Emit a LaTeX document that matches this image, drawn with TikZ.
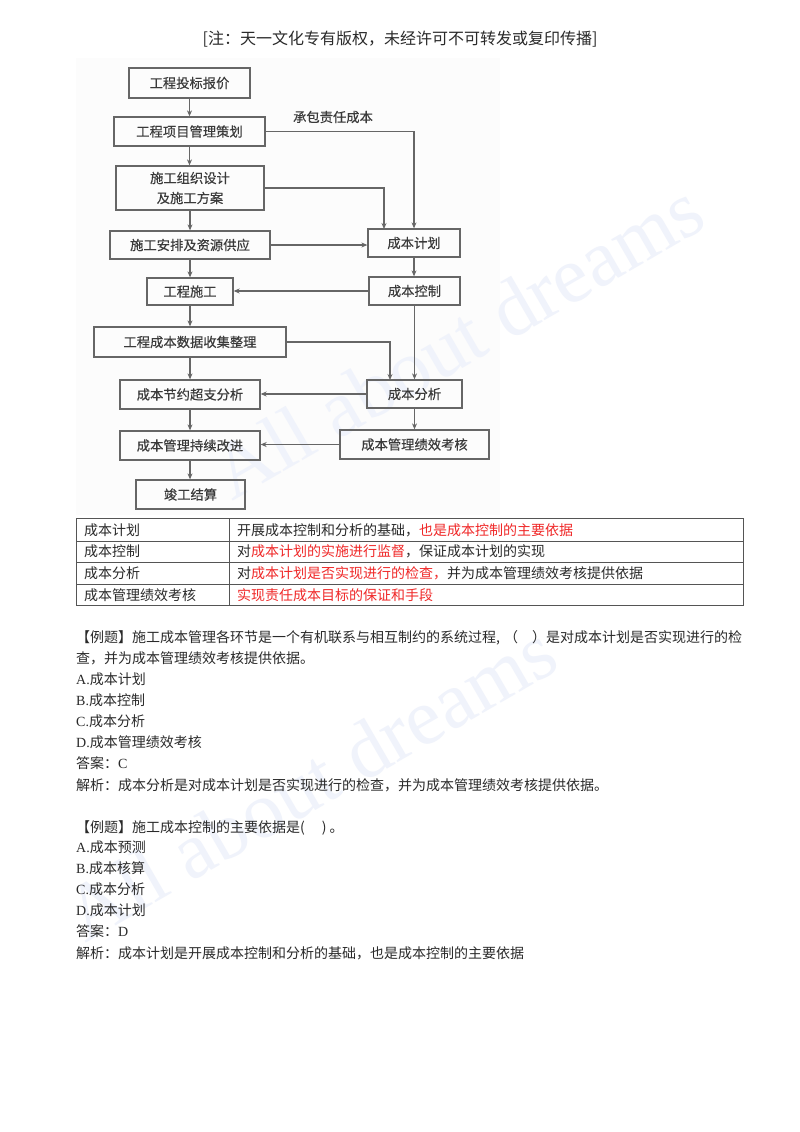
\documentclass[tikz,border=0pt]{standalone}
\usepackage{fontspec}
\setmainfont{Liberation Serif}
\newfontfamily\cjk{Noto Sans CJK SC}
\newfontfamily\cjkb[FakeBold=0.35]{Noto Sans CJK SC}
\newfontfamily\lat{Liberation Serif}
\usetikzlibrary{arrows.meta}
\definecolor{ink}{HTML}{2A2A2A}
\definecolor{boxline}{HTML}{666666}
\definecolor{boxtext}{HTML}{3A3A3A}
\definecolor{redtext}{HTML}{F02828}
\definecolor{wmark}{HTML}{F0F3FB}
\definecolor{rulegray}{HTML}{555555}
\tikzset{
  x=1pt,y=-1pt,
  flowbox/.style={draw=boxline,line width=1.3pt,inner sep=0pt,align=center,text=boxtext,font=\cjkb\fontsize{13.3}{20}\selectfont},
  flowlabel/.style={inner sep=0pt,text=boxtext,font=\cjkb\fontsize{13.3}{20}\selectfont},
  link/.style={draw=boxline,line width=1.3pt,-{Stealth[length=6pt,width=5pt]}},
  line/.style={anchor=west,inner sep=0pt,text=ink,text height=11pt,text depth=3pt,font=\cjk\fontsize{14}{16}\selectfont},
  tabrule/.style={draw=rulegray,line width=1pt},
  watermark/.style={text=wmark,font=\lat\fontsize{80}{80}\selectfont,rotate=30,inner sep=0pt}
}
\newcommand{\rd}[1]{\textcolor{redtext}{#1}}
\begin{document}
\begin{tikzpicture}
\useasboundingbox (0,0) rectangle (800,1132);
\fill[white] (0,0) rectangle (800,1132);
\fill[black!1] (76,58) rectangle (500,515);
% watermarks
\node[watermark] (wm1) at (457,340) {All about dreams};
\node[watermark] (wm2) at (310,782) {All about dreams};
% header
\node[inner sep=0pt,text=ink,font=\cjk\fontsize{16}{18}\selectfont] (hdr) at (400,39) {[注：天一文化专有版权，未经许可不可转发或复印传播]};
% flow boxes
\node[flowbox,minimum width=121pt,minimum height=30pt] (a) at (189.5,83) {工程投标报价};
\node[flowbox,minimum width=151pt,minimum height=29pt] (b) at (189.5,131.5) {工程项目管理策划};
\node[flowbox,minimum width=148pt,minimum height=44pt] (c) at (190,188) {施工组织设计\\及施工方案};
\node[flowbox,minimum width=160pt,minimum height=28pt] (d) at (190,245) {施工安排及资源供应};
\node[flowbox,minimum width=86pt,minimum height=27pt] (e) at (190,291.5) {工程施工};
\node[flowbox,minimum width=192pt,minimum height=30pt] (f) at (190,342) {工程成本数据收集整理};
\node[flowbox,minimum width=140pt,minimum height=29pt] (g) at (190,394.5) {成本节约超支分析};
\node[flowbox,minimum width=140pt,minimum height=29pt] (h) at (190,445.5) {成本管理持续改进};
\node[flowbox,minimum width=109pt,minimum height=29pt] (i) at (190.5,494.5) {竣工结算};
\node[flowbox,minimum width=92pt,minimum height=28pt] (plan) at (414,243) {成本计划};
\node[flowbox,minimum width=91pt,minimum height=28pt] (ctrl) at (414.5,291) {成本控制};
\node[flowbox,minimum width=95pt,minimum height=28pt] (ana) at (414.5,394) {成本分析};
\node[flowbox,minimum width=149pt,minimum height=29pt] (kh) at (414.5,444.5) {成本管理绩效考核};
\node[flowlabel] (cb) at (333,117) {承包责任成本};
% connectors
\draw[link] (a.south) -- (a.south |- b.north);
\draw[link] (b.south) -- (b.south |- c.north);
\draw[link] (c.south) -- (d.north);
\draw[link] (d.south) -- (e.north);
\draw[link] (e.south) -- (f.north);
\draw[link] (f.south) -- (g.north);
\draw[link] (g.south) -- (h.north);
\draw[link] (h.south) -- (h.south |- i.north);
\draw[link] (b.east) -| (plan.north);
\coordinate (cin) at (384,229);
\draw[link] (c.east) -| (cin);
\draw[link] (d.east) -- (d.east -| plan.west);
\draw[link] (plan.south) -- (plan.south |- ctrl.north);
\draw[link] (ctrl.west) -- (ctrl.west -| e.east);
\draw[link] (ctrl.south) -- (ana.north);
\coordinate (ain) at (390,380);
\draw[link] (f.east) -| (ain);
\draw[link] (ana.west) -- (ana.west -| g.east);
\draw[link] (ana.south) -- (kh.north);
\draw[link] (kh.west) -- (kh.west -| h.east);
% table
\draw[tabrule] (76,518.5) rectangle (743,605.5);
\draw[tabrule] (76,541) -- (743,541);
\draw[tabrule] (76,562.5) -- (743,562.5);
\draw[tabrule] (76,584) -- (743,584);
\draw[tabrule] (229,518.5) -- (229,605.5);
\node[line] (t1a) at (84,531) {成本计划};
\node[line] (t2a) at (84,552.5) {成本控制};
\node[line] (t3a) at (84,574) {成本分析};
\node[line] (t4a) at (84,596) {成本管理绩效考核};
\node[line] (t1b) at (237,531) {开展成本控制和分析的基础，\rd{也是成本控制的主要依据}};
\node[line] (t2b) at (237,552.5) {对\rd{成本计划的实施进行监督}，保证成本计划的实现};
\node[line] (t3b) at (237,574) {对\rd{成本计划是否实现进行的检查，}并为成本管理绩效考核提供依据};
\node[line] (t4b) at (237,596) {\rd{实现责任成本目标的保证和手段}};
% question 1
\node[line] (q1a) at (76,638) {【例题】施工成本管理各环节是一个有机联系与相互制约的系统过程,\hspace{4pt}（　）是对成本计划是否实现进行的检};
\node[line] (q1b) at (76,659) {查，并为成本管理绩效考核提供依据。};
\node[line] (q1c) at (76,680) {{\lat A.}成本计划};
\node[line] (q1d) at (76,701) {{\lat B.}成本控制};
\node[line] (q1e) at (76,722) {{\lat C.}成本分析};
\node[line] (q1f) at (76,743) {{\lat D.}成本管理绩效考核};
\node[line] (q1g) at (76,764) {答案：{\lat C}};
\node[line] (q1h) at (76,786) {解析：成本分析是对成本计划是否实现进行的检查，并为成本管理绩效考核提供依据。};
% question 2
\node[line] (q2a) at (76,828) {【例题】施工成本控制的主要依据是(\hspace{17pt})\hspace{3pt}。};
\node[line] (q2b) at (76,848) {{\lat A.}成本预测};
\node[line] (q2c) at (76,869) {{\lat B.}成本核算};
\node[line] (q2d) at (76,890) {{\lat C.}成本分析};
\node[line] (q2e) at (76,911) {{\lat D.}成本计划};
\node[line] (q2f) at (76,932) {答案：{\lat D}};
\node[line] (q2g) at (76,954) {解析：成本计划是开展成本控制和分析的基础，也是成本控制的主要依据};
\end{tikzpicture}
\end{document}
